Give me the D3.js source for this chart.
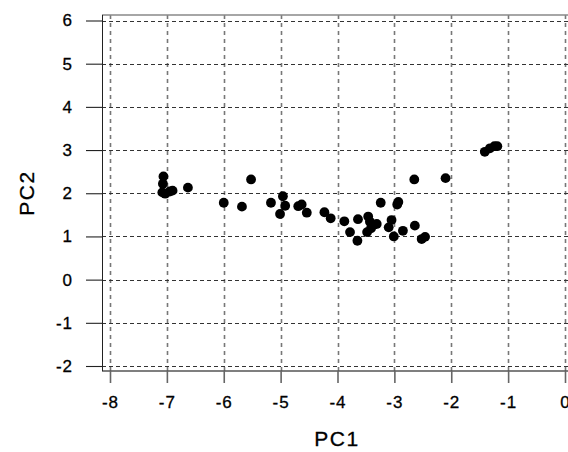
<!DOCTYPE html>
<html>
<head>
<meta charset="utf-8">
<script src="https://cdn.jsdelivr.net/npm/d3@7/dist/d3.min.js"></script>
<style>
  html, body { margin: 0; padding: 0; background: #fff; }
  svg { display: block; }
  text { font-family: "Liberation Sans", Arial, Helvetica, sans-serif; fill: #000; stroke: #000; stroke-width: 0.3px; }
</style>
</head>
<body>
<svg id="chart" width="568" height="452"></svg>
<script>
// PCA scores: first two principal components
const pc1 = [
  -7.06, -7.07, -7.08, -7.03, -6.95, -6.90, -6.63,
  -6.00, -5.68, -5.52, -5.17, -4.96, -4.92, -5.01, -4.69, -4.63, -4.54,
  -4.23, -4.12, -3.88, -3.78, -3.65, -3.64,
  -3.46, -3.43, -3.36, -3.31, -3.48, -3.41, -3.24,
  -3.05, -3.10, -3.01, -2.95, -2.93, -2.85,
  -2.65, -2.64, -2.52, -2.46, -2.10,
  -1.41, -1.32, -1.24, -1.19
];
const pc2 = [
  2.39, 2.22, 2.02, 1.99, 2.04, 2.06, 2.13,
  1.78, 1.69, 2.32, 1.78, 1.93, 1.71, 1.52, 1.70, 1.74, 1.55,
  1.56, 1.42, 1.35, 1.10, 0.90, 1.40,
  1.46, 1.34, 1.27, 1.29, 1.10, 1.19, 1.78,
  1.38, 1.21, 1.00, 1.74, 1.80, 1.13,
  2.32, 1.25, 0.94, 0.99, 2.35,
  2.96, 3.04, 3.09, 3.09
];
const xTicks = [-8, -7, -6, -5, -4, -3, -2, -1, 0];
const yTicks = [-2, -1, 0, 1, 2, 3, 4, 5, 6];
const xTitle = "PC1";
const yTitle = "PC2";

const svg = d3.select("#chart");

// plot frame (right side runs past the window edge)
const frame = { left: 102, right: 573, top: 15, bottom: 371 };

const x = d3.scaleLinear().domain([-8, 0]).range([110, 565]);
const y = d3.scaleLinear().domain([-2, 6]).range([366, 20.5]);

// plain hyphen-minus tick labels
const fmt = d => String(d);

// dashed grid
const grid = svg.append("g");
grid.selectAll("line.v").data(xTicks).join("line")
  .attr("class", "v")
  .attr("x1", d => Math.round(x(d)) + 0.5).attr("x2", d => Math.round(x(d)) + 0.5)
  .attr("y1", frame.top).attr("y2", frame.bottom)
  .attr("stroke", "#777").attr("stroke-width", 1.6)
  .attr("stroke-dasharray", "4,4");
grid.selectAll("line.h").data(yTicks).join("line")
  .attr("class", "h")
  .attr("x1", frame.left).attr("x2", frame.right)
  .attr("y1", d => Math.round(y(d)) + 0.5).attr("y2", d => Math.round(y(d)) + 0.5)
  .attr("stroke", "#333").attr("stroke-width", 1.1)
  .attr("stroke-dasharray", "4,3");

// frame edges
svg.append("line")
  .attr("x1", frame.left).attr("x2", frame.right)
  .attr("y1", frame.top).attr("y2", frame.top)
  .attr("stroke", "#888").attr("stroke-width", 1.6);
svg.append("line")
  .attr("x1", frame.left).attr("x2", frame.right)
  .attr("y1", frame.bottom).attr("y2", frame.bottom)
  .attr("stroke", "#555").attr("stroke-width", 1.4);
svg.append("line")
  .attr("x1", frame.left + 0.5).attr("x2", frame.left + 0.5)
  .attr("y1", frame.top).attr("y2", frame.bottom)
  .attr("stroke", "#222").attr("stroke-width", 1);

// bottom axis
const xAxis = d3.axisBottom(x).tickValues(xTicks).tickSize(12).tickPadding(13)
  .tickFormat(fmt);
const gx = svg.append("g").attr("transform", `translate(0,${frame.bottom})`).call(xAxis);
gx.select(".domain").remove();
gx.selectAll(".tick line").attr("stroke", "#666").attr("stroke-width", 1.6);
gx.selectAll(".tick text")
  .style("font-size", "17px").style("letter-spacing", "1px")
  .attr("fill", "#000");

// left axis
const yAxis = d3.axisLeft(y).tickValues(yTicks).tickSize(16).tickPadding(13)
  .tickFormat(fmt);
const gy = svg.append("g").attr("transform", `translate(${frame.left},0)`).call(yAxis);
gy.select(".domain").remove();
gy.selectAll(".tick line").attr("stroke", "#222").attr("stroke-width", 1.1);
gy.selectAll(".tick text")
  .style("font-size", "17px").style("letter-spacing", "1px")
  .attr("fill", "#000");

// axis titles
svg.append("text")
  .attr("x", 337).attr("y", 446)
  .attr("text-anchor", "middle")
  .style("font-size", "21px").style("letter-spacing", "1.5px")
  .text(xTitle);
svg.append("text")
  .attr("transform", "translate(34,193) rotate(-90)")
  .attr("text-anchor", "middle")
  .style("font-size", "21px").style("letter-spacing", "1.5px")
  .text(yTitle);

// score points
svg.append("g").selectAll("circle")
  .data(d3.range(pc1.length))
  .join("circle")
  .attr("cx", i => x(pc1[i]))
  .attr("cy", i => y(pc2[i]))
  .attr("r", 4.9)
  .attr("fill", "#000");
</script>
</body>
</html>
